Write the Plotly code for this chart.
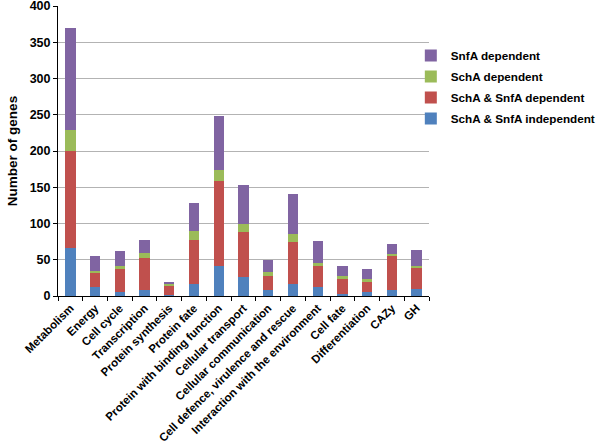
import plotly.graph_objects as go

categories = ["Metabolism", "Energy", "Cell cycle", "Transcription", "Protein synthesis",
              "Protein fate", "Protein with binding function", "Cellular transport",
              "Cellular communication", "Cell defence, virulence and rescue",
              "Interaction with the environment", "Cell fate", "Differentiation", "CAZy", "GH"]
independent = [66, 12, 6, 8, 1, 16, 41, 26, 8, 16, 12, 3, 5, 8, 9]
both_dependent = [134, 20, 31, 45, 13, 61, 117, 62, 20, 58, 30, 21, 15, 48, 30]
scha_dependent = [29, 2, 5, 6, 3, 12, 16, 11, 5, 12, 3, 3, 3, 2, 2]
snfa_dependent = [141, 21, 20, 18, 2, 39, 74, 54, 17, 55, 31, 15, 14, 14, 23]
y_ticks = [0, 50, 100, 150, 200, 250, 300, 350, 400]

series = [
    ("SchA & SnfA independent", independent, "#4F81BD", 4),
    ("SchA & SnfA dependent", both_dependent, "#C0504D", 3),
    ("SchA dependent", scha_dependent, "#9BBB59", 2),
    ("SnfA dependent", snfa_dependent, "#8064A2", 1),
]

fig = go.Figure()
for name, vals, col, rank in series:
    fig.add_trace(go.Bar(x=categories, y=vals, name=name, marker_color=col,
                         marker_line_width=0, legendgroup=name, legendrank=rank))

font_family = "Arial, Liberation Sans, sans-serif"
fig.update_layout(
    barmode="stack",
    bargap=0.58,
    width=600, height=445,
    margin=dict(l=58, r=171, t=6, b=149, autoexpand=False),
    plot_bgcolor="white", paper_bgcolor="white",
    font=dict(family=font_family, color="black", size=11),
    showlegend=True,
    legend=dict(x=0.951, y=0.879, xanchor="left", yanchor="top",
                traceorder="grouped", tracegroupgap=2,
                font=dict(size=11.7, weight="bold", family=font_family),
                itemwidth=30, bgcolor="rgba(0,0,0,0)"),
)
fig.update_yaxes(range=[0, 400], tickvals=y_ticks, showgrid=True, gridcolor="#B3B3B3",
                 gridwidth=1, showline=True, linecolor="black", linewidth=1,
                 ticks="outside", ticklen=4, tickcolor="black", automargin=False,
                 ticklabeloverflow="allow",
                 tickfont=dict(size=12.5, weight="bold"),
                 title=dict(text="Number of genes", font=dict(size=13.5, weight="bold"), standoff=8),
                 zeroline=False)
fig.update_xaxes(showline=True, linecolor="black", linewidth=1, tickangle=-45,
                 ticks="outside", ticklen=4, tickcolor="black", tickson="boundaries",
                 automargin=False,
                 tickfont=dict(size=11.5, weight="bold"), showgrid=False)

fig.write_html("out.html", config={"displayModeBar": False},
               post_script="document.body.style.margin='0';")
